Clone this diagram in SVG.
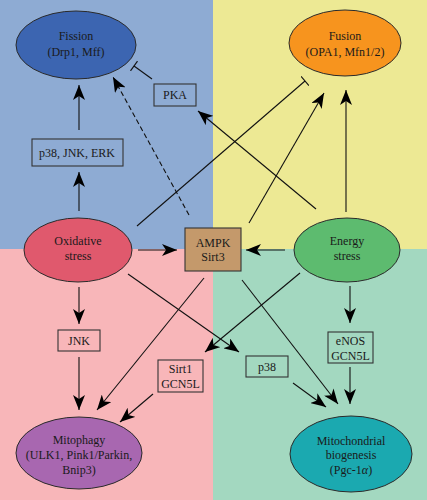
<svg xmlns="http://www.w3.org/2000/svg" width="427" height="500" viewBox="0 0 427 500">
<style>
text{font-family:'Liberation Serif','Times New Roman','DejaVu Serif',serif;font-size:12px;fill:#1a1a1a;text-anchor:middle}
.e{stroke:#2a2a2a;stroke-width:1}
.b{fill:none;stroke:#333;stroke-width:1.1}
.c line{stroke:#111;stroke-width:1.1}
.a{marker-end:url(#ar)}
.t{marker-end:url(#tb)}
.d{stroke-dasharray:5,3}
</style>
<defs>
<marker id="ar" viewBox="0 0 15 12" refX="15" refY="6" markerWidth="15" markerHeight="12" markerUnits="userSpaceOnUse" orient="auto">
<path d="M0,0 L15,6 L0,12 L4,6 z" fill="#000"/>
</marker>
<marker id="tb" viewBox="0 0 4 12" refX="2" refY="6" markerWidth="4" markerHeight="12" markerUnits="userSpaceOnUse" orient="auto">
<line x1="2" y1="0" x2="2" y2="12" stroke="#111" stroke-width="1.1"/>
</marker>
</defs>
<g id="background">
<rect x="0" y="0" width="213" height="249" fill="#8eabd3"/>
<rect x="213" y="0" width="214" height="249" fill="#ede994"/>
<rect x="0" y="249" width="213" height="251" fill="#f8b6b9"/>
<rect x="213" y="249" width="214" height="251" fill="#a3d8c0"/>
</g>
<g id="connectors" class="c">
<line class="a" x1="79" y1="211" x2="79" y2="172"/>
<line class="a" x1="79" y1="130" x2="79" y2="85"/>
<line class="t" x1="152" y1="79" x2="134" y2="66"/>
<line class="a d" x1="189" y1="215" x2="113" y2="77"/>
<line class="t" x1="137" y1="226" x2="305" y2="81"/>
<line class="a" x1="249" y1="223" x2="324" y2="93"/>
<line class="a" x1="316" y1="209" x2="198" y2="111"/>
<line class="a" x1="346" y1="212" x2="346" y2="90"/>
<line class="a" x1="138" y1="250" x2="177" y2="250"/>
<line class="a" x1="285" y1="250" x2="246" y2="250"/>
<line class="a" x1="79" y1="287" x2="79" y2="324"/>
<line class="a" x1="79" y1="357" x2="79" y2="410"/>
<line class="a" x1="204" y1="278" x2="97" y2="410"/>
<line class="a" x1="153" y1="394" x2="120" y2="422"/>
<line class="a" x1="300" y1="273" x2="205" y2="352"/>
<line class="a" x1="128" y1="274" x2="239" y2="352"/>
<line class="a" x1="293" y1="383" x2="326" y2="407"/>
<line class="a" x1="242" y1="280" x2="338" y2="404"/>
<line class="a" x1="350" y1="286" x2="350" y2="323"/>
<line class="a" x1="350" y1="367" x2="350" y2="404"/>
</g>
<g id="fission">
<ellipse class="e" cx="76" cy="45" rx="60" ry="34" fill="#3c65b1"/>
<text x="76" y="40">Fission</text>
<text x="76" y="56">(Drp1, Mff)</text>
</g>
<g id="fusion">
<ellipse class="e" cx="345" cy="43" rx="56" ry="33" fill="#f7941e"/>
<text x="345" y="40">Fusion</text>
<text x="345" y="56">(OPA1, Mfn1/2)</text>
</g>
<g id="pka">
<rect class="b" x="154" y="84" width="42" height="22"/>
<text x="175" y="99">PKA</text>
</g>
<g id="mapk">
<rect class="b" x="32" y="139" width="91" height="27"/>
<text x="77" y="157">p38, JNK, ERK</text>
</g>
<g id="oxidative">
<ellipse class="e" cx="78" cy="250" rx="54" ry="32" fill="#e0596d"/>
<text x="78" y="245">Oxidative</text>
<text x="78" y="260">stress</text>
</g>
<g id="ampk">
<rect x="185" y="228" width="56" height="43" fill="#c4996b" stroke="#333" stroke-width="1.1"/>
<text x="213" y="247">AMPK</text>
<text x="213" y="261">Sirt3</text>
</g>
<g id="energy">
<ellipse class="e" cx="347" cy="250" rx="53" ry="32" fill="#5dbb6f"/>
<text x="347" y="245">Energy</text>
<text x="347" y="260">stress</text>
</g>
<g id="jnk">
<rect class="b" x="58" y="330" width="42" height="21"/>
<text x="79" y="345">JNK</text>
</g>
<g id="sirt1">
<rect class="b" x="158" y="360" width="45" height="32"/>
<text x="180.5" y="373">Sirt1</text>
<text x="180.5" y="388">GCN5L</text>
</g>
<g id="p38">
<rect class="b" x="246" y="356" width="42" height="21"/>
<text x="267" y="371">p38</text>
</g>
<g id="enos">
<rect class="b" x="328" y="332" width="45" height="31"/>
<text x="350.5" y="345">eNOS</text>
<text x="350.5" y="360">GCN5L</text>
</g>
<g id="mitophagy">
<ellipse class="e" cx="79" cy="453" rx="63" ry="36" fill="#a867b0"/>
<text x="79" y="444">Mitophagy</text>
<text x="79" y="459">(ULK1, Pink1/Parkin,</text>
<text x="79" y="474">Bnip3)</text>
</g>
<g id="biogenesis">
<ellipse class="e" cx="351" cy="454" rx="61" ry="38" fill="#1ba9b0"/>
<text x="351" y="445">Mitochondrial</text>
<text x="351" y="459">biogenesis</text>
<text x="351" y="474">(Pgc-1<tspan font-style="italic">α</tspan>)</text>
</g>
</svg>
